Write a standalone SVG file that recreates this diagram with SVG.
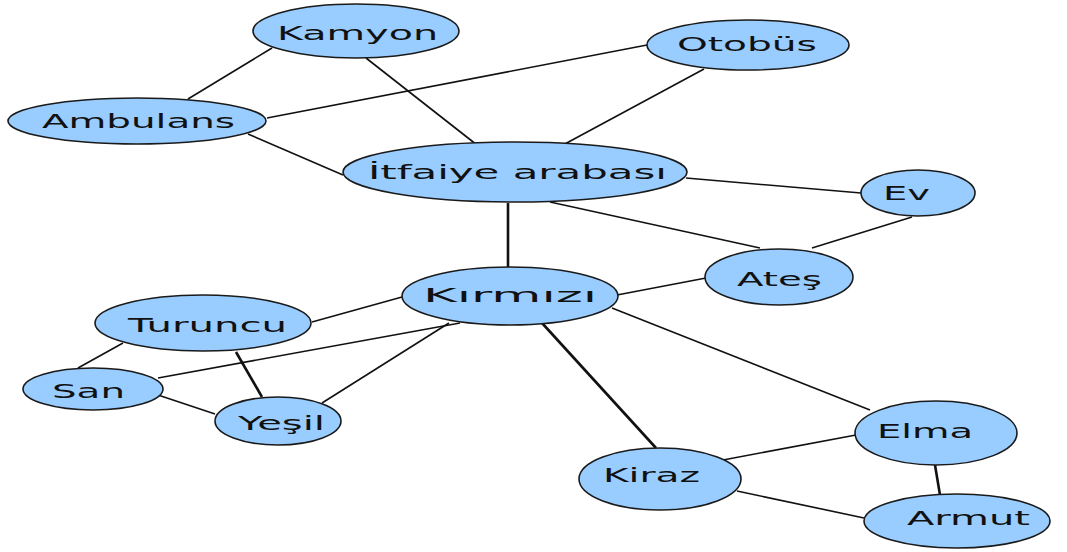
<svg xmlns="http://www.w3.org/2000/svg" width="1067" height="552" viewBox="0 0 1067 552">
  <style>
    .edge { stroke: #111; stroke-width: 1.6; fill: none; }
    .thick { stroke-width: 2.6; }
    .node ellipse { fill: #99ccff; stroke: #1a1a1a; stroke-width: 1.6; }
    .node text { font-family: "DejaVu Sans", Verdana, sans-serif; font-size: 20px; fill: #111; text-anchor: start; }
  </style>
  <rect width="1067" height="552" fill="#ffffff"/>

  <g id="connectors">
    <line class="edge" x1="272" y1="48" x2="188" y2="99"/>
    <line class="edge" x1="366" y1="58" x2="477" y2="145"/>
    <line class="edge" x1="267" y1="118" x2="647" y2="45"/>
    <line class="edge" x1="248" y1="134" x2="343" y2="175"/>
    <line class="edge" x1="704" y1="69" x2="563" y2="145"/>
    <line class="edge" x1="686" y1="178" x2="861" y2="193"/>
    <line class="edge" x1="550" y1="202" x2="760" y2="248"/>
    <line class="edge" x1="912" y1="217" x2="812" y2="248"/>
    <line class="edge thick" x1="508" y1="203" x2="508" y2="267"/>
    <line class="edge" x1="617" y1="295" x2="706" y2="278"/>
    <line class="edge" x1="402" y1="297" x2="312" y2="322"/>
    <line class="edge" x1="460" y1="323" x2="158" y2="378"/>
    <line class="edge" x1="449" y1="323" x2="322" y2="403"/>
    <line class="edge thick" x1="542" y1="323" x2="656" y2="448"/>
    <line class="edge" x1="612" y1="308" x2="870" y2="410"/>
    <line class="edge" x1="123" y1="343" x2="78" y2="368"/>
    <line class="edge thick" x1="236" y1="352" x2="262" y2="397"/>
    <line class="edge" x1="158" y1="395" x2="215" y2="414"/>
    <line class="edge" x1="723" y1="460" x2="856" y2="435"/>
    <line class="edge" x1="737" y1="491" x2="864" y2="518"/>
    <line class="edge thick" x1="935" y1="465" x2="940" y2="495"/>
  </g>

  <g id="kamyon" class="node">
    <ellipse cx="356" cy="31" rx="103" ry="27"/>
    <text x="277" y="40" textLength="161" lengthAdjust="spacingAndGlyphs">Kamyon</text>
  </g>
  <g id="ambulans" class="node">
    <ellipse cx="137" cy="121" rx="129" ry="23"/>
    <text x="42" y="128" textLength="193" lengthAdjust="spacingAndGlyphs">Ambulans</text>
  </g>
  <g id="otobus" class="node">
    <ellipse cx="748" cy="45" rx="101" ry="25"/>
    <text x="677" y="51" textLength="140" lengthAdjust="spacingAndGlyphs">Otobüs</text>
  </g>
  <g id="itfaiye" class="node">
    <ellipse cx="515" cy="172" rx="172" ry="30"/>
    <text x="368" y="179" textLength="299" lengthAdjust="spacingAndGlyphs">İtfaiye arabası</text>
  </g>
  <g id="ev" class="node">
    <ellipse cx="918" cy="193" rx="57" ry="23"/>
    <text x="883" y="200" textLength="47" lengthAdjust="spacingAndGlyphs">Ev</text>
  </g>
  <g id="ates" class="node">
    <ellipse cx="779" cy="277" rx="74" ry="28"/>
    <text x="737" y="286" textLength="85" lengthAdjust="spacingAndGlyphs">Ateş</text>
  </g>
  <g id="kirmizi" class="node">
    <ellipse cx="510" cy="296" rx="108" ry="29"/>
    <text x="423" y="302" textLength="174" lengthAdjust="spacingAndGlyphs">Kırmızı</text>
  </g>
  <g id="turuncu" class="node">
    <ellipse cx="203" cy="323" rx="108" ry="28"/>
    <text x="128" y="332" textLength="159" lengthAdjust="spacingAndGlyphs">Turuncu</text>
  </g>
  <g id="sari" class="node">
    <ellipse cx="93" cy="389" rx="70" ry="21"/>
    <text x="52" y="398" textLength="73" lengthAdjust="spacingAndGlyphs">San</text>
  </g>
  <g id="yesil" class="node">
    <ellipse cx="278" cy="421" rx="63" ry="24"/>
    <text x="238" y="430" textLength="87" lengthAdjust="spacingAndGlyphs">Yeşil</text>
  </g>
  <g id="kiraz" class="node">
    <ellipse cx="660" cy="479" rx="81" ry="31"/>
    <text x="603" y="482" textLength="97" lengthAdjust="spacingAndGlyphs">Kiraz</text>
  </g>
  <g id="elma" class="node">
    <ellipse cx="936" cy="433" rx="81" ry="32"/>
    <text x="877" y="438" textLength="96" lengthAdjust="spacingAndGlyphs">Elma</text>
  </g>
  <g id="armut" class="node">
    <ellipse cx="957" cy="521" rx="93" ry="27"/>
    <text x="907" y="525" textLength="123" lengthAdjust="spacingAndGlyphs">Armut</text>
  </g>
</svg>
